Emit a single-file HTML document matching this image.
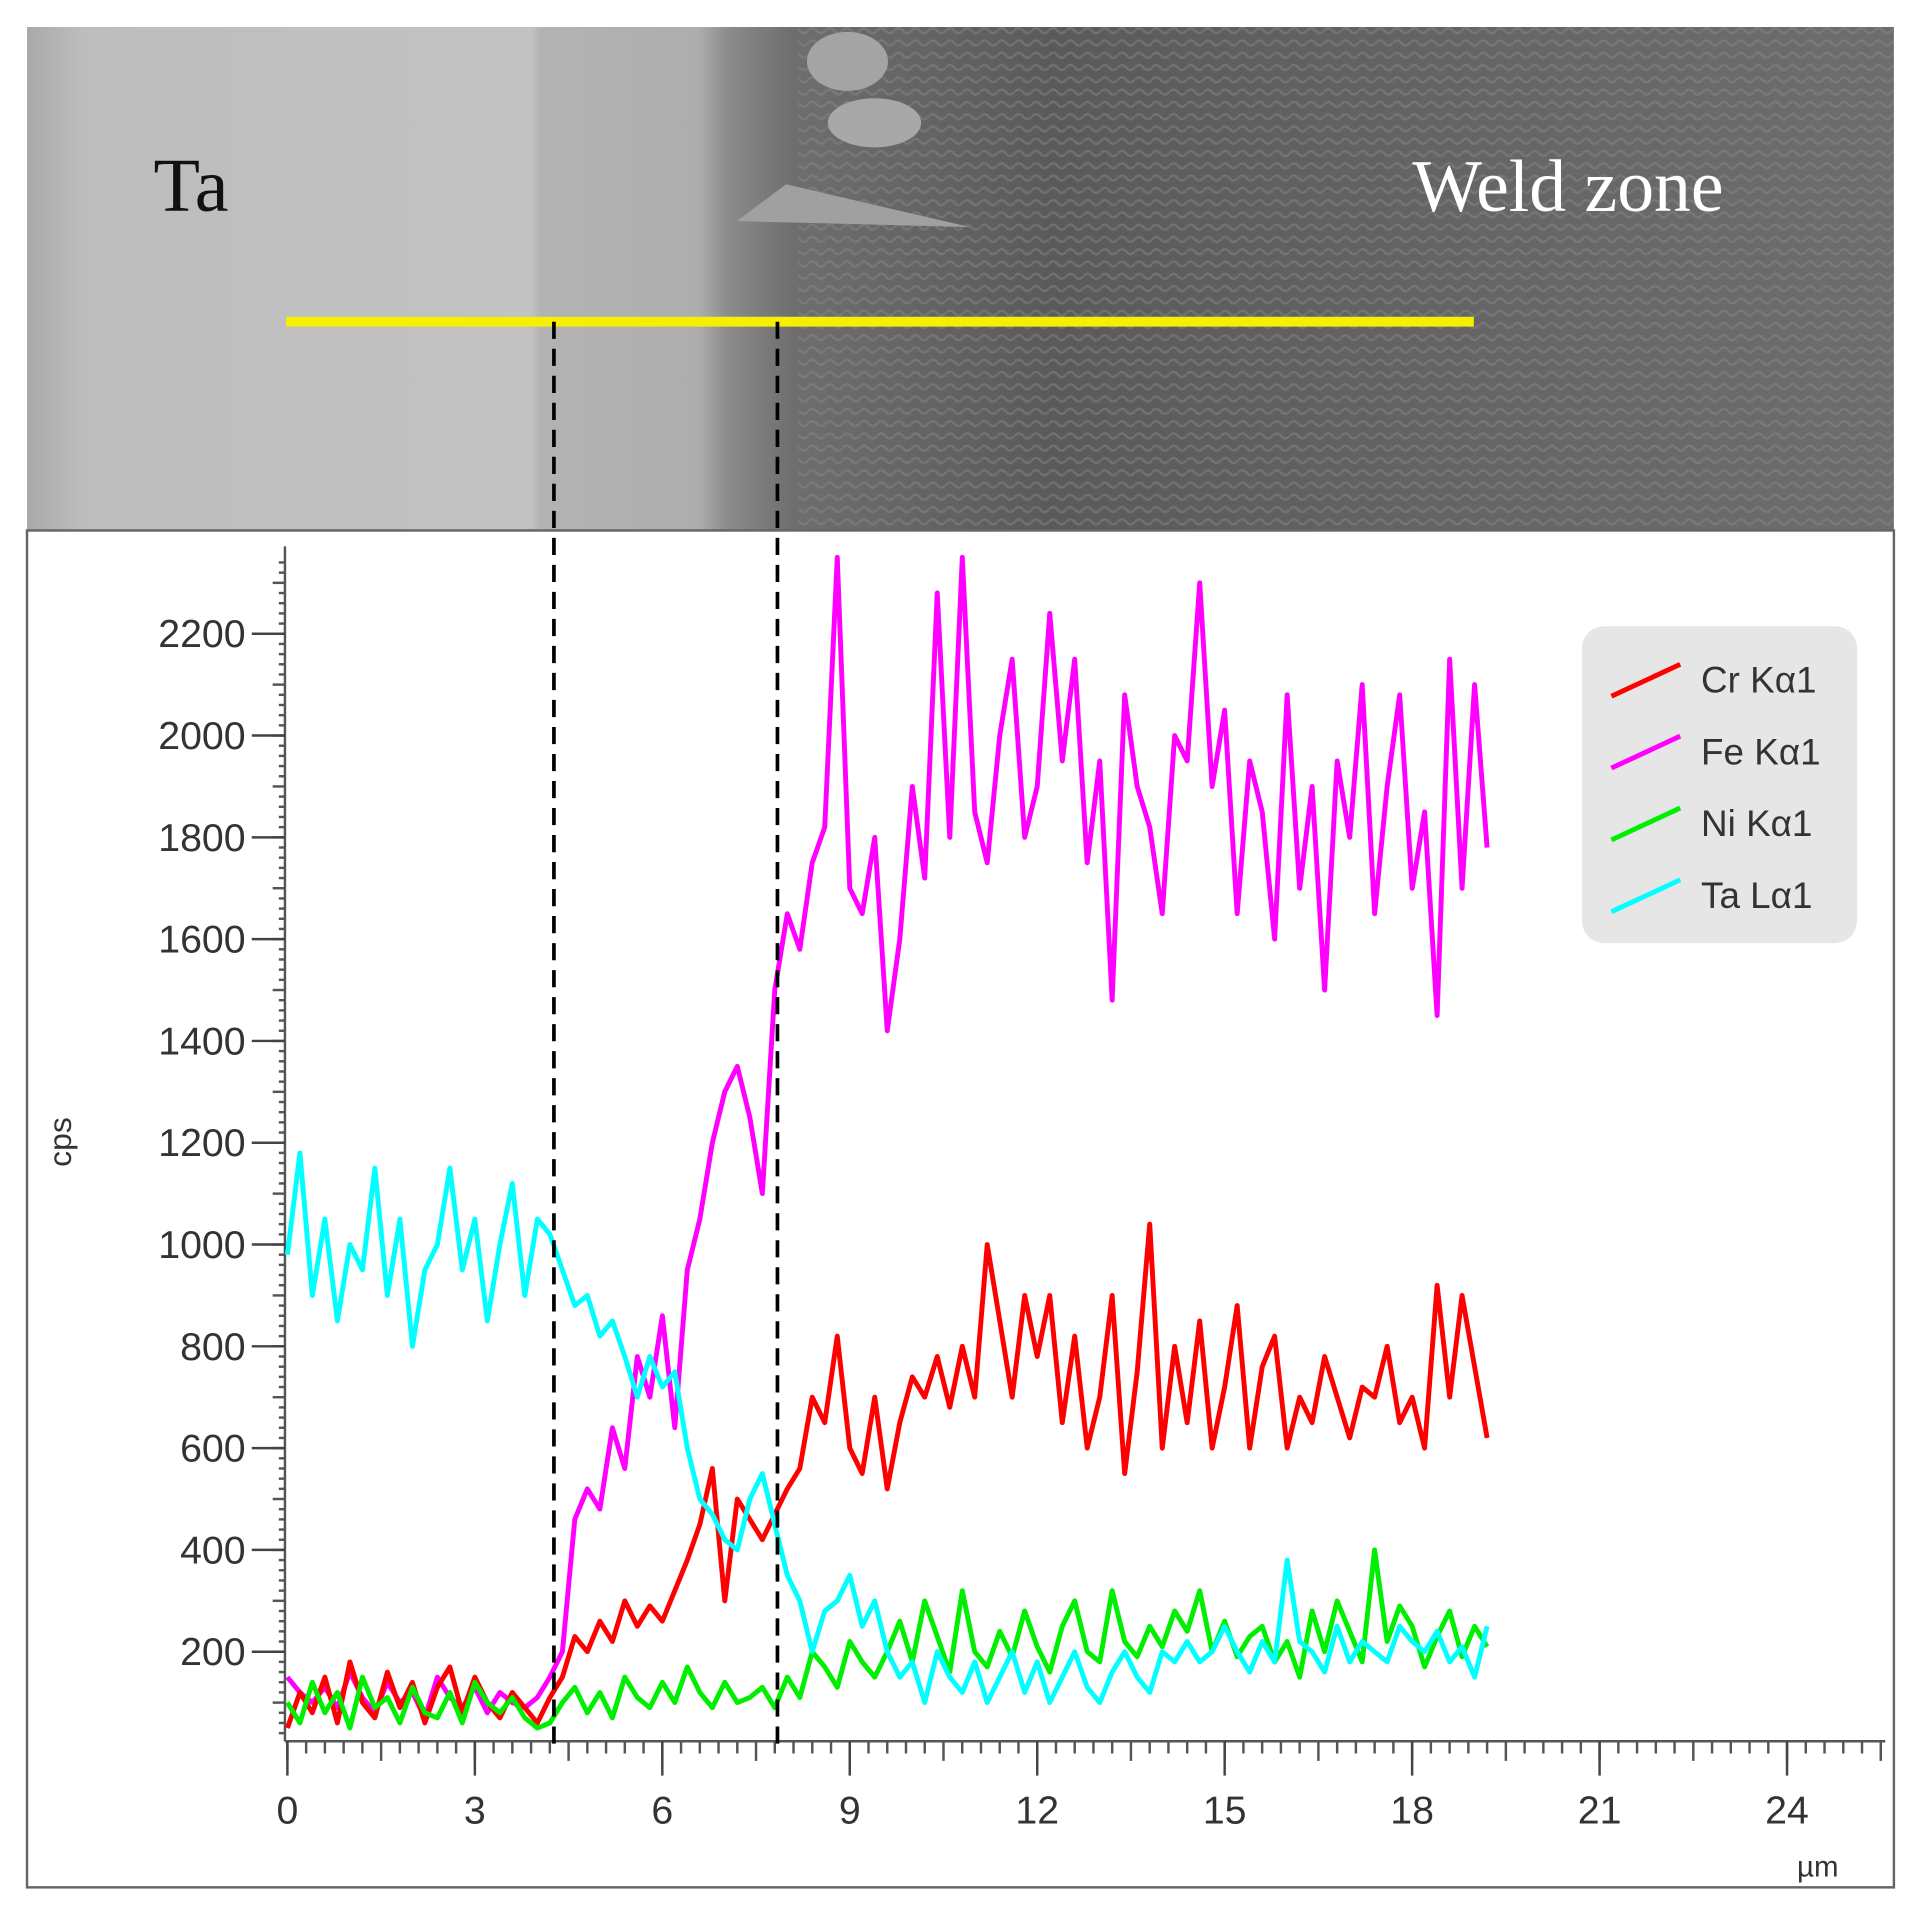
<!DOCTYPE html>
<html><head><meta charset="utf-8"><style>
html,body{margin:0;padding:0;background:#fff;}
svg{display:block;}
text{font-family:"Liberation Sans",sans-serif;}
</style></head><body>
<svg id="chart" width="1916" height="1907" viewBox="0 0 1560 1553" preserveAspectRatio="none" xmlns="http://www.w3.org/2000/svg">
<defs>
<linearGradient id="semg" x1="0" x2="1" y1="0" y2="0">
<stop offset="0" stop-color="#a9a9a9"/><stop offset="0.03" stop-color="#bdbdbd"/>
<stop offset="0.27" stop-color="#c2c2c2"/><stop offset="0.275" stop-color="#b3b3b3"/>
<stop offset="0.36" stop-color="#adadad"/><stop offset="0.375" stop-color="#8c8c8c"/>
<stop offset="0.41" stop-color="#6e6e6e"/><stop offset="0.55" stop-color="#5a5a5a"/>
<stop offset="0.8" stop-color="#666"/><stop offset="1" stop-color="#6d6d6d"/>
</linearGradient>
<pattern id="tex" width="14" height="10" patternUnits="userSpaceOnUse">
<path d="M0 5 Q3.5 1 7 5 T14 5" stroke="#8a8a8a" stroke-width="2" fill="none"/>
</pattern>
</defs>
<g>
<rect x="22" y="22" width="1520" height="410" fill="url(#semg)"/>
<rect x="650" y="22" width="892" height="410" fill="url(#tex)" opacity="0.45"/>
<ellipse cx="690" cy="50" rx="33" ry="24" fill="#a4a4a4"/>
<ellipse cx="712" cy="100" rx="38" ry="20" fill="#a8a8a8"/>
<path d="M600 180 L790 185 L640 150 Z" fill="#a0a0a0"/>
<text x="125" y="172" style="font-family:'Liberation Serif',serif" font-size="62" fill="#111">Ta</text>
<text x="1150" y="172" style="font-family:'Liberation Serif',serif" font-size="60" fill="#fff">Weld zone</text>
<line x1="233" y1="262" x2="1200" y2="262" stroke="#f5f000" stroke-width="8"/>
</g>
<rect x="22" y="432" width="1520" height="1105" fill="#fff" stroke="#666" stroke-width="2"/>
<g id="axes"></g>
<g id="series"></g>
<line x1="451" y1="262" x2="451" y2="1422" stroke="#000" stroke-width="3" stroke-dasharray="14,8"/>
<line x1="633" y1="262" x2="633" y2="1422" stroke="#000" stroke-width="3" stroke-dasharray="14,8"/>
<text x="58" y="930" font-size="26" fill="#333" transform="rotate(-90 58 930)" text-anchor="middle">cps</text>
<text x="1480" y="1528" font-size="24" fill="#333" text-anchor="middle">µm</text>
<g>
<rect x="1288" y="510" width="224" height="258" rx="18" fill="#e6e6e6"/>
<g id="legend-items"></g>
</g>
</svg>
<script>
const xs=[0,0.2,0.4,0.6,0.8,1,1.2,1.4,1.6,1.8,2,2.2,2.4,2.6,2.8,3,3.2,3.4,3.6,3.8,4,4.2,4.4,4.6,4.8,5,5.2,5.4,5.6,5.8,6,6.2,6.4,6.6,6.8,7,7.2,7.4,7.6,7.8,8,8.2,8.4,8.6,8.8,9,9.2,9.4,9.6,9.8,10,10.2,10.4,10.6,10.8,11,11.2,11.4,11.6,11.8,12,12.2,12.4,12.6,12.8,13,13.2,13.4,13.6,13.8,14,14.2,14.4,14.6,14.8,15,15.2,15.4,15.6,15.8,16,16.2,16.4,16.6,16.8,17,17.2,17.4,17.6,17.8,18,18.2,18.4,18.6,18.8,19,19.2];
const feVals=[150,120,100,130,90,160,110,80,140,100,120,70,150,110,90,130,80,120,100,90,110,150,200,460,520,480,640,560,780,700,860,640,950,1050,1200,1300,1350,1250,1100,1500,1650,1580,1750,1820,2350,1700,1650,1800,1420,1600,1900,1720,2280,1800,2350,1850,1750,2000,2150,1800,1900,2240,1950,2150,1750,1950,1480,2080,1900,1820,1650,2000,1950,2300,1900,2050,1650,1950,1850,1600,2080,1700,1900,1500,1950,1800,2100,1650,1900,2080,1700,1850,1450,2150,1700,2100,1780];
const crVals=[50,120,80,150,60,180,100,70,160,90,140,60,130,170,80,150,100,70,120,90,60,110,150,230,200,260,220,300,250,290,260,320,380,450,560,300,500,460,420,470,520,560,700,650,820,600,550,700,520,650,740,700,780,680,800,700,1000,850,700,900,780,900,650,820,600,700,900,550,750,1040,600,800,650,850,600,720,880,600,760,820,600,700,650,780,700,620,720,700,800,650,700,600,920,700,900,760,620];
const niVals=[100,60,140,80,120,50,150,90,110,60,130,80,70,120,60,140,100,80,110,70,50,60,100,130,80,120,70,150,110,90,140,100,170,120,90,140,100,110,130,90,150,110,200,170,130,220,180,150,200,260,180,300,230,160,320,200,170,240,190,280,210,160,250,300,200,180,320,220,190,250,210,280,240,320,200,260,190,230,250,180,220,150,280,200,300,240,180,400,220,290,250,170,230,280,190,250,210];
const taVals=[980,1180,900,1050,850,1000,950,1150,900,1050,800,950,1000,1150,950,1050,850,1000,1120,900,1050,1020,950,880,900,820,850,780,700,780,720,750,600,500,470,420,400,500,550,450,350,300,200,280,300,350,250,300,200,150,180,100,200,150,120,180,100,150,200,120,180,100,150,200,130,100,160,200,150,120,200,180,220,180,200,250,200,160,220,180,380,220,200,160,250,180,220,200,180,250,220,200,240,180,210,150,250];
const seriesNames=["Cr Kα1","Fe Kα1","Ni Kα1","Ta Lα1"];
const seriesColors=["#ff0000","#ff00ff","#00ee00","#00ffff"];
const yTicks=[200,400,600,800,1000,1200,1400,1600,1800,2000,2200];
const xTicks=[0,3,6,9,12,15,18,21,24];

const NS="http://www.w3.org/2000/svg";
function xS(v){return 234+v*(1455-234)/24;}
function yS(v){return 1428-v*(1345-516)/2000;}
function mk(tag,attrs,parent){const e=document.createElementNS(NS,tag);for(const k in attrs)e.setAttribute(k,attrs[k]);parent.appendChild(e);return e;}
const axes=document.getElementById('axes');
let yl=mk('line',{x1:232,y1:445,x2:232,y2:1418,stroke:'#555','stroke-width':2},axes);


for(let v=40;v<=2340;v+=20){
  const len=(v%100===0)?10:5;
  const t=mk('line',{x1:232-len,y1:yS(v),x2:232,y2:yS(v),stroke:'#555','stroke-width':2},axes);
  
  
}
yTicks.forEach(v=>{
  const t=mk('line',{x1:205,y1:yS(v),x2:232,y2:yS(v),stroke:'#444','stroke-width':2},axes);
  
  
  const l=mk('text',{x:200,y:yS(v)+11,'font-size':32,fill:'#333','text-anchor':'end'},axes);
  l.textContent=v;
  
  
});
let xl=mk('line',{x1:232,y1:1418,x2:1535,y2:1418,stroke:'#555','stroke-width':2},axes);


for(let i=0;i<=85;i++){
  const v=i*0.3;
  const len=(i%5===0)?16:10;
  const t=mk('line',{x1:xS(v),y1:1418,x2:xS(v),y2:1418+len,stroke:'#555','stroke-width':2},axes);
  
  
}
xTicks.forEach(v=>{
  const t=mk('line',{x1:xS(v),y1:1418,x2:xS(v),y2:1446,stroke:'#444','stroke-width':2},axes);
  
  
  const l=mk('text',{x:xS(v),y:1485,'font-size':32,fill:'#333','text-anchor':'middle'},axes);
  l.textContent=v;
  
  
});
const sg=document.getElementById('series');
function drawSeries(vals,color,name){
  const n=Math.min(xs.length,vals.length);
  let d='';
  for(let i=0;i<n;i++)d+=(i?'L':'M')+xS(xs[i]).toFixed(1)+' '+yS(vals[i]).toFixed(1);
  const p=mk('path',{d:d,fill:'none',stroke:color,'stroke-width':4,'stroke-linejoin':'round'},sg);
  
  
}
drawSeries(feVals,seriesColors[1],'fe-line');
drawSeries(crVals,seriesColors[0],'cr-line');
drawSeries(niVals,seriesColors[2],'ni-line');
drawSeries(taVals,seriesColors[3],'ta-line');
const lg=document.getElementById('legend-items');
seriesNames.forEach((nm,i)=>{
  const y=553+i*58.5;
  const ln=mk('line',{x1:1312,y1:y+14,x2:1368,y2:y-12,stroke:seriesColors[i],'stroke-width':4},lg);
  
  
  const t=mk('text',{x:1385,y:y+11,'font-size':30,fill:'#333'},lg);
  t.textContent=nm;
  
  
});
</script>
</body></html>
